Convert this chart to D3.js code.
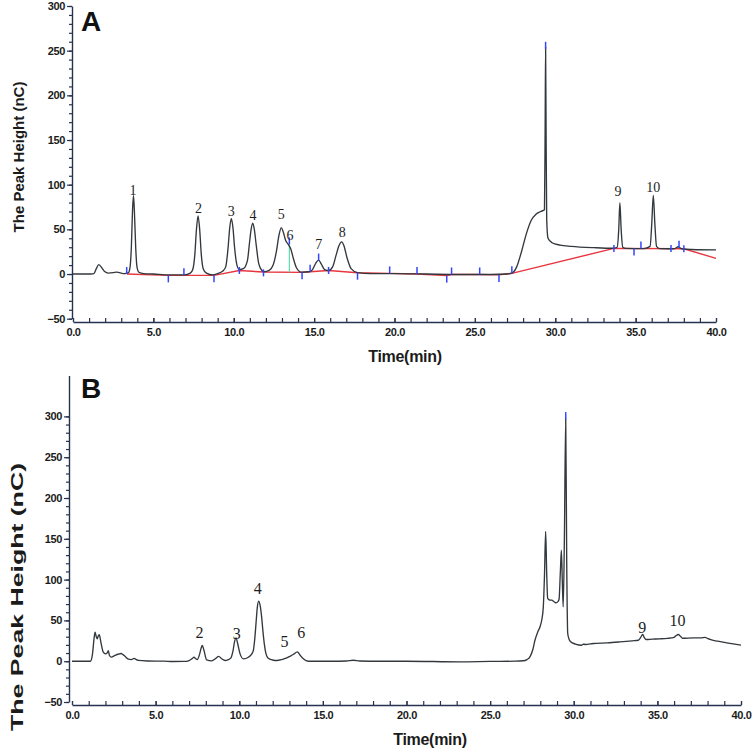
<!DOCTYPE html>
<html>
<head>
<meta charset="utf-8">
<script src="https://cdn.jsdelivr.net/npm/d3@7"></script>
<style>
  html, body { margin: 0; padding: 0; background: #fff; }
  svg { display: block; }
</style>
</head>
<body>
<svg id="chart" width="756" height="751"></svg>
<script>
// ---------------- DATA ----------------
// Panel A chromatogram: [time (min), peak height (nC)]
const traceA = [
  [0,0],[1.1,0],[1.3,0.5],[1.45,6],[1.6,10.5],[1.75,8],[1.95,3],[2.2,1],[2.5,1.5],[2.7,2.2],[2.9,1.5],[3.2,0.5],
  [3.45,1.5],[3.55,8],[3.63,30],[3.7,70],[3.76,88],[3.82,70],[3.9,30],[3.98,8],[4.1,2],[4.4,0.5],[5.0,0],[6.0,-1],[6.9,-1],
  [7.3,1],[7.45,5],[7.58,22],[7.68,50],[7.78,65],[7.88,50],[7.98,22],[8.1,6],[8.3,1],[8.7,-1],
  [9.0,0.5],[9.3,3],[9.5,8],[9.65,30],[9.75,52],[9.85,62],[9.95,52],[10.05,30],[10.2,10],[10.35,5],
  [10.6,6],[10.85,15],[10.98,35],[11.08,50],[11.18,57],[11.28,50],[11.4,32],[11.55,12],[11.75,4],[11.9,2.5],
  [12.2,4],[12.45,10],[12.65,25],[12.82,44],[12.96,52],[13.08,47],[13.22,38],[13.4,33],[13.55,28],[13.7,18],[13.9,7],[14.2,2],
  [14.7,2.5],[14.9,5],[15.1,12],[15.28,15.5],[15.45,11],[15.65,5],[15.9,4],
  [16.15,8],[16.35,20],[16.55,32],[16.71,36],[16.85,32],[17.05,18],[17.3,6],[17.7,1.5],
  [18.5,0.5],[20,0.5],[22,0],[24,-0.5],[26,-0.5],[27.0,0],
  [27.3,1],[27.6,8],[27.9,25],[28.2,45],[28.5,60],[28.8,67],[29.1,70],[29.33,72],
  [29.37,160],[29.4,254],[29.43,160],[29.47,60],[29.55,40],[29.8,35],[30.3,32.4],[31.0,31],[32.4,29.5],[33.6,28.8],
  [33.85,30],[33.95,50],[34.02,80],[34.1,50],[34.2,30],[34.4,28.7],[35.5,28.5],
  [35.9,31],[36.0,55],[36.1,88],[36.2,55],[36.3,31],[36.5,28.5],[37.4,28.3],[37.65,30.5],[37.85,28.3],[38.5,27.5],[40,27]
];
// Panel A integration baseline (red)
const baselineA = [
  [3.34,0],[5.93,-1.5],[6.9,-1.5],[8.77,-1.5],[10.35,4],[11.85,2.2],[14.25,1.9],[14.75,2.6],[15.9,4],[17.7,1.5],
  [19.7,0.7],[21.4,0],[23.25,-1.8],[23.55,-0.5],[25.3,-0.5],[26.5,-1],[27.3,0.8],[33.65,28.7],[38.0,28.3],[40,17.5]
];
// Panel A integration marks (blue): [time, height, direction: 1 up, -1 down, 0 centred]
const marksA = [
  [3.34,0,1],[5.93,-1.5,-1],[6.9,-1.5,1],[8.77,-1.5,-1],[10.35,4,0],[11.85,1.3,0],[13.46,37,0],[14.25,1.9,-1],
  [14.75,2.6,1],[15.28,19,0],[15.9,4,0],[17.7,1.5,-1],[19.7,0.7,1],[21.4,0,1],[23.25,-1.8,-1],[23.55,-0.5,1],
  [25.3,-0.5,1],[26.5,-1,-1],[27.3,0.8,1],[29.4,256,0],[33.65,28.7,0],[34.9,28.7,-1],[35.33,28.7,1],
  [37.2,28.7,0],[37.7,29.5,1],[38.0,28.3,0]
];
// Panel A drop line (green) between peaks 5 and 6
const dropA = [[13.46,2.1],[13.46,33]];
// Panel A peak labels: [label, time, height at text baseline]
const labelsA = [
  ["1",3.74,88.5],["2",7.8,68.5],["3",9.85,65],["4",11.2,60],["5",12.96,61.5],["6",13.5,38.5],
  ["7",15.28,28.5],["8",16.75,41],["9",33.9,87],["10",36.1,91.5]
];

// Panel B chromatogram
const traceB = [
  [0,0],[1.1,0],[1.22,8],[1.32,28],[1.38,35.5],[1.45,30],[1.51,27.5],[1.57,31],[1.63,32.5],[1.72,24],[1.87,11],
  [2.0,9],[2.1,10],[2.17,13],[2.24,7],[2.35,5],[2.57,7],[2.75,8.5],[2.93,9.4],[3.05,8],[3.17,6],[3.37,2.5],[3.55,2],
  [3.71,3.4],[3.85,2],[3.97,1],[4.5,0.3],[5.5,0],[6.05,-0.4],[6.7,-0.3],[7.0,0.8],[7.2,3.5],[7.29,4.9],[7.4,3],[7.49,2],
  [7.62,8],[7.72,16],[7.79,19.2],[7.88,14],[8.05,1.6],[8.35,0.4],[8.6,3.5],[8.77,6],[8.95,3],[9.15,0.8],[9.35,2],[9.49,3.7],
  [9.62,12],[9.72,24],[9.81,28.6],[9.9,22],[10.05,9],[10.25,2.9],[10.54,4.9],[10.75,9],[10.84,13],[10.93,28],[11.0,45.8],
  [11.08,66],[11.16,73.6],[11.25,68],[11.34,54],[11.42,36],[11.5,21],[11.6,9],[11.73,3.7],[12.0,1.5],[12.24,0.8],
  [12.55,2],[12.84,4],[13.03,6],[13.25,8.5],[13.47,11.5],[13.65,7],[13.83,3],[14.13,0],[15.5,0],[16.4,0.3],[16.82,1.2],
  [17.2,0.3],[18.4,0],[20,0],[23.2,-0.8],[25,-0.3],[26.5,0],[26.98,0.5],[27.2,2],[27.38,5.3],[27.55,14],[27.68,25.7],
  [27.85,36],[27.98,42],[28.1,52],[28.18,66.6],[28.25,105],[28.32,159],[28.38,110],[28.44,77],[28.55,75],[28.68,74.8],
  [28.85,72.5],[28.94,71.5],[29.05,73],[29.12,75.6],[29.2,110],[29.26,136],[29.32,95],[29.37,66.6],[29.44,150],
  [29.52,297.5],[29.58,120],[29.64,34],[29.72,27],[29.82,23.7],[30.1,21],[30.48,19.6],[30.57,21],[30.7,20.5],[31.17,21.7],
  [32,22.5],[32.77,23.7],[33.5,25],[33.86,25.7],[34.0,29],[34.12,32.7],[34.22,29],[34.32,26.6],[34.7,27],[35.16,27.4],
  [35.6,28],[35.96,28.9],[36.1,31],[36.25,32.7],[36.38,30.5],[36.51,28.1],[37.15,28.6],[37.6,28.6],[37.85,29.2],[38.0,28],
  [38.15,26.6],[38.6,24.5],[39.15,22.5],[40,19.6]
];
const marksB = [[29.52,301,0]];
const labelsB = [
  ["2",7.62,29],["3",9.85,27.5],["4",11.1,82],["5",12.7,17],["6",13.7,28],["9",34.1,34],["10",36.2,43]
];

// Axis ticks
const xMajor = [0,5,10,15,20,25,30,35,40];
const xMinor = d3.range(0,41,1);
const yMajorA = [-50,0,50,100,150,200,250,300];
const yMinorA = d3.range(-50,301,10);
const yMajorB = [-50,0,50,100,150,200,250,300];
const yMinorB = d3.range(-50,301,10);
const xTitle = "Time(min)";
const yTitle = "The Peak Height (nC)";

// ---------------- DRAW ----------------
const svg = d3.select("#chart");
const AXIS = "#26324f";
const TXT = "#1b1b1b";
const FONT = "'Liberation Sans', Arial, sans-serif";

function panel(opt) {
  const g = svg.append("g");
  const x = d3.scaleLinear([0,40], opt.xr);
  const y = d3.scaleLinear(opt.yd, opt.yr);

  g.append("g").attr("transform", `translate(${opt.yAxisX},0)`)
    .call(d3.axisLeft(y).tickValues(opt.yMajor).tickSize(5).tickSizeOuter(0).tickPadding(2).tickFormat(d3.format("d")));
  g.append("g").attr("transform", `translate(${opt.yAxisX},0)`)
    .call(d3.axisLeft(y).tickValues(opt.yMinor).tickSize(3).tickSizeOuter(0).tickFormat(""))
    .select(".domain").remove();
  g.append("g").attr("transform", `translate(0,${opt.xAxisY})`)
    .call(d3.axisBottom(x).tickValues(xMajor).tickSize(-4).tickSizeOuter(0).tickPadding(6).tickFormat(d3.format(".1f")));
  g.append("g").attr("transform", `translate(0,${opt.xAxisY})`)
    .call(d3.axisBottom(x).tickValues(xMinor).tickSize(-4).tickSizeOuter(0).tickFormat(""))
    .select(".domain").remove();

  g.selectAll(".domain").attr("stroke", AXIS).attr("stroke-width", 1.4);
  g.selectAll(".tick line").attr("stroke", AXIS).attr("stroke-width", 1.2);
  g.selectAll(".tick text").attr("fill", TXT).style("font-family", FONT)
    .style("font-weight", "bold").style("font-size", "11px").style("letter-spacing", "-0.4px");

  g.append("text").attr("x", opt.xTitle[0]).attr("y", opt.xTitle[1])
    .attr("text-anchor", "middle").attr("fill", TXT)
    .style("font-family", FONT).style("font-weight", "bold").style("font-size", "16px")
    .style("letter-spacing", "-0.3px")
    .text(xTitle);
  const yt = g.append("text").attr("transform", `translate(${opt.yTitle[0]},${opt.yTitle[1]}) rotate(-90)`)
    .attr("text-anchor", "middle").attr("fill", TXT)
    .style("font-family", FONT).style("font-weight", "bold").style("font-size", opt.yTitleSize + "px")
    .text(yTitle);
  if (opt.yTitleLen) yt.attr("textLength", opt.yTitleLen).attr("lengthAdjust", "spacingAndGlyphs");
  g.append("text").attr("x", 81).attr("y", opt.letterY).attr("fill", "#111")
    .style("font-family", FONT).style("font-weight", "bold").style("font-size", "28px")
    .text(opt.letter);

  const line = d3.line().x(d => x(d[0])).y(d => y(d[1]));

  if (opt.baseline) {
    g.append("path").datum(opt.baseline).attr("d", line.curve(d3.curveLinear))
      .attr("fill", "none").attr("stroke", "#e8353f").attr("stroke-width", 1.4);
  }
  if (opt.drop) {
    g.append("path").datum(opt.drop).attr("d", line.curve(d3.curveLinear))
      .attr("fill", "none").attr("stroke", "#5fd9b0").attr("stroke-width", 1.2);
  }
  g.append("path").datum(opt.trace).attr("d", line.curve(d3.curveMonotoneX))
    .attr("fill", "none").attr("stroke", "#33383d").attr("stroke-width", 1.35)
    .attr("stroke-linejoin", "round");

  const L = 7;
  g.selectAll(".mark").data(opt.marks).join("line")
    .attr("x1", d => x(d[0])).attr("x2", d => x(d[0]))
    .attr("y1", d => y(d[1]) - (d[2] === 1 ? L : d[2] === -1 ? 0 : L / 2))
    .attr("y2", d => y(d[1]) + (d[2] === 1 ? 0 : d[2] === -1 ? L : L / 2))
    .attr("stroke", "#3346ff").attr("stroke-width", 1.5);

  g.selectAll(".plab").data(opt.labels).join("text")
    .attr("x", d => x(d[1])).attr("y", d => y(d[2]))
    .attr("text-anchor", "middle").attr("fill", "#1e1e1e")
    .style("font-family", "'Liberation Serif', 'Times New Roman', serif")
    .style("font-size", opt.labelSize + "px")
    .text(d => d[0]);
}

panel({
  xr: [73, 716], yd: [-50, 300], yr: [318.7, 6], yAxisX: 72, xAxisY: 322,
  yMajor: yMajorA, yMinor: yMinorA, xTitle: [405, 362], yTitle: [24, 157], yTitleSize: 15, yTitleLen: null,
  letter: "A", letterY: 31, trace: traceA, baseline: baselineA, drop: dropA, marks: marksA,
  labels: labelsA, labelSize: 14
});
panel({
  xr: [72, 741], yd: [-50, 350], yr: [702, 375.6], yAxisX: 69, xAxisY: 705,
  yMajor: yMajorB, yMinor: yMinorB, xTitle: [430, 745], yTitle: [23, 597], yTitleSize: 16, yTitleLen: 268,
  letter: "B", letterY: 398, trace: traceB, baseline: null, drop: null, marks: marksB,
  labels: labelsB, labelSize: 16
});
</script>
</body>
</html>
